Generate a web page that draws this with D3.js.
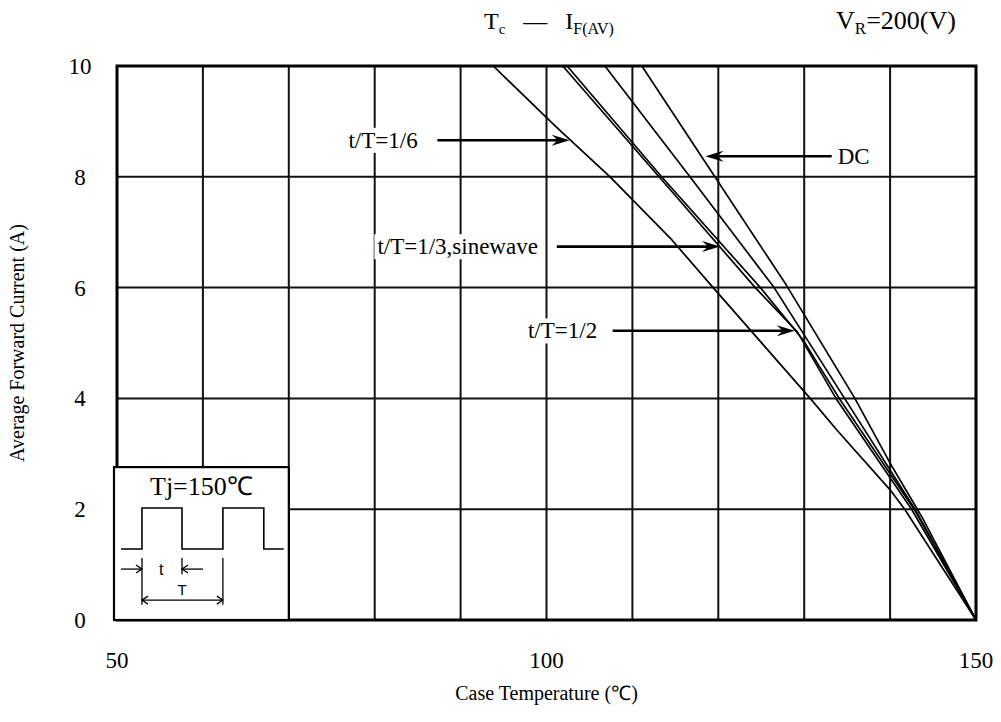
<!DOCTYPE html>
<html>
<head>
<meta charset="UTF-8">
<title>Tc - IF(AV)</title>
<style>
  body { margin: 0; background: #fff; }
  text { font-family: "Liberation Serif", "Times New Roman", serif; fill: #000; }
</style>
</head>
<body>
<script src="https://cdn.jsdelivr.net/npm/d3@7/dist/d3.min.js"></script>
<script>
  // data: [case temperature (C), average forward current (A)]
  const duty16 = [[93.8, 10], [101, 8.92], [107.4, 8], [114.6, 6.86], [119.4, 6], [130.7, 4], [133.8, 3.43], [140, 2.35], [141.7, 2], [150, 0]]
  const duty13 = [[101.9, 10], [113.1, 8], [124.3, 6], [129.2, 5.2], [133.7, 4], [142.5, 2], [150, 0]]
  const sinewave = [[102.4, 10], [113.4, 8], [124.9, 6], [129.9, 5.05], [131.8, 4.57], [134.2, 3.97], [142.8, 2], [150, 0]]
  const duty12 = [[106.8, 10], [116.7, 8], [126.5, 6], [134.7, 4], [142.9, 2], [150, 0]]
  const dc = [[111.1, 10], [119.6, 8], [127.9, 6.05], [135.9, 4], [140, 2.83], [143.7, 1.86], [150, 0]]
  const series = [duty16, duty13, sinewave, duty12, dc]

  const xGrid = [50, 60, 70, 80, 90, 100, 110, 120, 130, 140, 150]
  const xLabels = [50, 100, 150]
  const yGrid = [0, 2, 4, 6, 8, 10]

  // annotations: label, text end/start temperature, current level, arrow from -> to
  const notes = [
    { text: 't/T=1/6', anchor: 'end', at: 85.0, level: 8.66, from: 87.3, to: 102.7 },
    { text: 'DC', anchor: 'start', at: 133.9, level: 8.37, from: 133.2, to: 118.5 },
    { text: 't/T=1/3,sinewave', anchor: 'end', at: 99.0, level: 6.74, from: 101.2, to: 120.2 },
    { text: 't/T=1/2', anchor: 'end', at: 105.9, level: 5.22, from: 107.7, to: 128.9 }
  ]

  const width = 1001
  const height = 722

  let x = d3.scaleLinear().domain([50, 150]).range([117, 976])
  let y = d3.scaleLinear().domain([0, 10]).range([620, 66])

  let svg = d3.select('body').append('svg')
    .attr('width', width)
    .attr('height', height)

  // grid
  svg.append('g').selectAll('line').data(xGrid).enter().append('line')
    .attr('x1', d => x(d)).attr('x2', d => x(d))
    .attr('y1', y(0)).attr('y2', y(10))
    .attr('stroke', '#111').attr('stroke-width', 2)
  svg.append('g').selectAll('line').data(yGrid).enter().append('line')
    .attr('x1', x(50)).attr('x2', x(150))
    .attr('y1', d => y(d)).attr('y2', d => y(d))
    .attr('stroke', '#111').attr('stroke-width', 2)

  // frame
  svg.append('rect')
    .attr('x', x(50)).attr('y', y(10))
    .attr('width', x(150) - x(50)).attr('height', y(0) - y(10))
    .attr('fill', 'none').attr('stroke', '#000').attr('stroke-width', 3)

  // tick labels
  svg.append('g').selectAll('text').data(xLabels).enter().append('text')
    .attr('x', d => x(d)).attr('y', y(0) + 48)
    .attr('text-anchor', 'middle')
    .style('font-size', '23px')
    .text(d => d)
  svg.append('g').selectAll('text').data(yGrid).enter().append('text')
    .attr('x', 80).attr('y', d => y(d) + 8)
    .attr('text-anchor', 'middle')
    .style('font-size', '23px')
    .text(d => d)

  // curves
  let line = d3.line().x(d => x(d[0])).y(d => y(d[1]))
  svg.append('g').selectAll('path').data(series).enter().append('path')
    .attr('d', line)
    .attr('fill', 'none')
    .attr('stroke', '#000')
    .attr('stroke-width', 1.7)
    .attr('stroke-linejoin', 'round')

  // annotations with white background
  notes.forEach(n => {
    let g = svg.append('g')
    let t = g.append('text')
      .attr('x', x(n.at)).attr('y', y(n.level))
      .attr('dy', '0.33em')
      .attr('text-anchor', n.anchor)
      .style('font-size', '23px')
      .text(n.text)
    let bb = t.node().getBBox()
    g.insert('rect', 'text')
      .attr('x', bb.x - 3).attr('y', bb.y)
      .attr('width', bb.width + 6).attr('height', bb.height)
      .attr('fill', '#fff')
    let x0 = x(n.from), x1 = x(n.to), yy = y(n.level)
    let dir = x1 > x0 ? 1 : -1
    svg.append('line')
      .attr('x1', x0).attr('x2', x1 - dir * 8)
      .attr('y1', yy).attr('y2', yy)
      .attr('stroke', '#000').attr('stroke-width', 2.6)
    svg.append('path')
      .attr('d', `M${x1},${yy} L${x1 - dir * 18},${yy - 5.5} L${x1 - dir * 12},${yy} L${x1 - dir * 18},${yy + 5.5} Z`)
      .attr('fill', '#000')
  })

  // inset with pulse sketch
  let bx0 = x(50) - 3, bx1 = x(70), by0 = y(2.76), by1 = y(0)
  let ix = d3.scaleLinear().domain([0, 1]).range([bx0, bx1])
  let iy = d3.scaleLinear().domain([0, 1]).range([by0, by1])
  svg.append('rect')
    .attr('x', bx0).attr('y', by0)
    .attr('width', bx1 - bx0).attr('height', by1 - by0)
    .attr('fill', '#fff').attr('stroke', '#000').attr('stroke-width', 2.2)
  svg.append('text')
    .attr('x', ix(0.5)).attr('y', iy(0.18))
    .attr('text-anchor', 'middle')
    .style('font-size', '26px')
    .text('Tj=150℃')

  const waveX = [0.04, 0.16, 0.16, 0.389, 0.389, 0.623, 0.623, 0.857, 0.857, 0.971]
  const waveY = [0.536, 0.536, 0.268, 0.268, 0.536, 0.536, 0.268, 0.268, 0.536, 0.536]
  svg.append('path')
    .attr('d', d3.line().x((d, i) => ix(waveX[i])).y(d => iy(d))(waveY))
    .attr('fill', 'none').attr('stroke', '#000').attr('stroke-width', 1.6)

  let inset = svg.append('g').attr('stroke', '#000').attr('stroke-width', 1.3).attr('fill', 'none')
  inset.append('line').attr('x1', ix(0.16)).attr('x2', ix(0.16)).attr('y1', iy(0.595)).attr('y2', iy(0.9))
  inset.append('line').attr('x1', ix(0.389)).attr('x2', ix(0.389)).attr('y1', iy(0.595)).attr('y2', iy(0.7))
  inset.append('line').attr('x1', ix(0.623)).attr('x2', ix(0.623)).attr('y1', iy(0.595)).attr('y2', iy(0.9))
  // t arrows
  inset.append('line').attr('x1', ix(0.04)).attr('x2', ix(0.16)).attr('y1', iy(0.667)).attr('y2', iy(0.667))
  inset.append('path').attr('d', `M${ix(0.16) - 6},${iy(0.667) - 4} L${ix(0.16)},${iy(0.667)} L${ix(0.16) - 6},${iy(0.667) + 4}`)
  inset.append('line').attr('x1', ix(0.509)).attr('x2', ix(0.389)).attr('y1', iy(0.667)).attr('y2', iy(0.667))
  inset.append('path').attr('d', `M${ix(0.389) + 6},${iy(0.667) - 4} L${ix(0.389)},${iy(0.667)} L${ix(0.389) + 6},${iy(0.667) + 4}`)
  // T arrow
  inset.append('line').attr('x1', ix(0.16)).attr('x2', ix(0.623)).attr('y1', iy(0.87)).attr('y2', iy(0.87))
  inset.append('path').attr('d', `M${ix(0.16) + 6},${iy(0.87) - 4} L${ix(0.16)},${iy(0.87)} L${ix(0.16) + 6},${iy(0.87) + 4}`)
  inset.append('path').attr('d', `M${ix(0.623) - 6},${iy(0.87) - 4} L${ix(0.623)},${iy(0.87)} L${ix(0.623) - 6},${iy(0.87) + 4}`)

  svg.append('text').attr('x', ix(0.27)).attr('y', iy(0.667)).attr('dy', '0.35em')
    .attr('text-anchor', 'middle')
    .style('font-family', '"Liberation Sans", Arial, sans-serif').style('font-size', '16px')
    .text('t')
  svg.append('text').attr('x', ix(0.389)).attr('y', iy(0.8)).attr('dy', '0.35em')
    .attr('text-anchor', 'middle')
    .style('font-family', '"Liberation Sans", Arial, sans-serif').style('font-size', '15px')
    .text('T')

  // titles
  let title = svg.append('text').attr('x', 484).attr('y', 29).style('font-size', '24px')
  title.append('tspan').text('T')
  title.append('tspan').attr('dy', 5).style('font-size', '15px').text('c')
  title.append('tspan').attr('dy', -5).attr('xml:space', 'preserve').text('   \u2014   ')
  title.append('tspan').text('I')
  title.append('tspan').attr('dy', 5).style('font-size', '16px').text('F(AV)')

  let vr = svg.append('text').attr('x', 836).attr('y', 29).style('font-size', '26px')
  vr.append('tspan').text('V')
  vr.append('tspan').attr('dy', 5).style('font-size', '17px').text('R')
  vr.append('tspan').attr('dy', -5).text('=200(V)')

  svg.append('text')
    .attr('x', x(100)).attr('y', 700)
    .attr('text-anchor', 'middle')
    .style('font-size', '20px')
    .text('Case Temperature (℃)')

  svg.append('text')
    .attr('transform', `translate(24,${(y(0) + y(10)) / 2}) rotate(-90)`)
    .attr('text-anchor', 'middle')
    .style('font-size', '20px')
    .text('Average Forward Current (A)')
</script>
</body>
</html>
